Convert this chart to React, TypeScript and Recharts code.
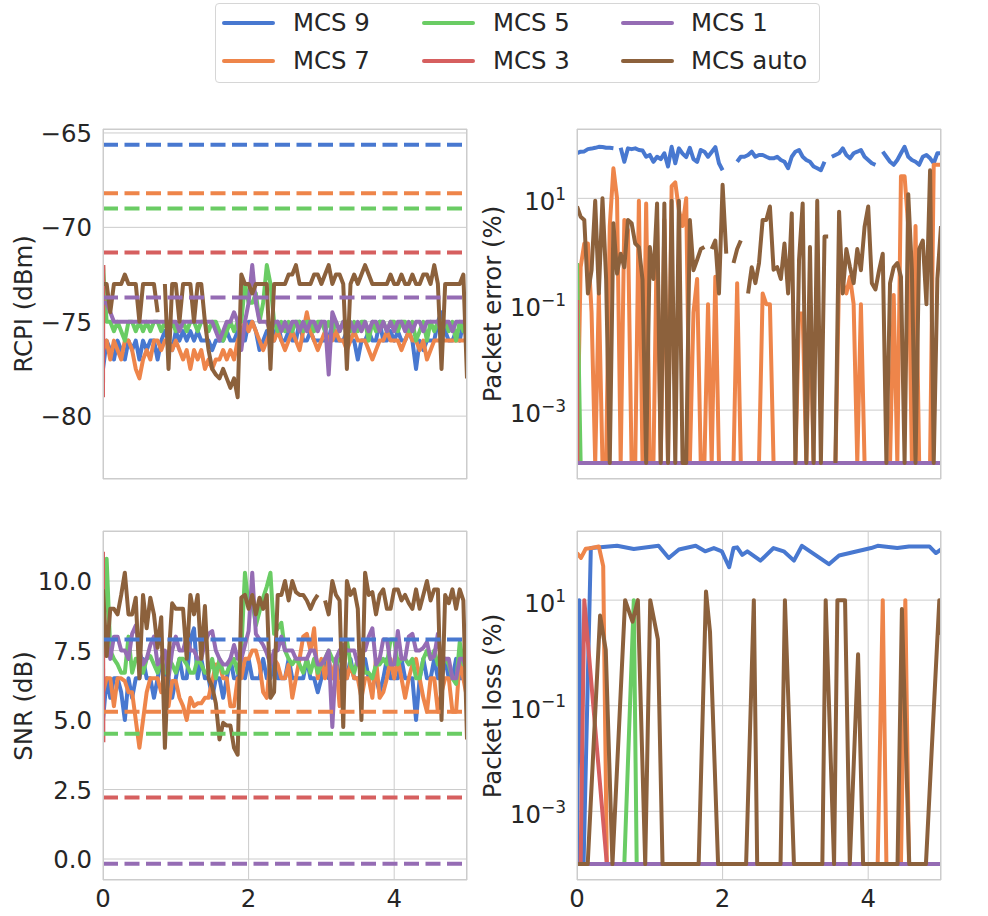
import React from "react";
import { LineChart, Line, XAxis, YAxis, CartesianGrid, ReferenceLine } from "recharts";

// seaborn "muted" palette, whitegrid style
const COLORS: Record<string, string> = {
  mcs9: "#4878d0", mcs7: "#ee854a", mcs5: "#6acc64",
  mcs3: "#d65f5f", mcs1: "#956cb4", auto: "#8c613c",
};
const TEXT = "#262626";
const GRID = "#cccccc";
const FONT = '"DejaVu Sans", sans-serif';
const FS = 24.4;

// ─── Data ──────────────────────────────────────────────────────────────────

const Z = 1e-4; // zero error / loss, drawn at the log floor

// sample times (s), 0.05 s apart
const T = Array.from({ length: 101 }, (_, i) => Math.round(i * 5) / 100);
const RED_X = [0, 0.005];

const LEGEND = [
  { key: "mcs9", label: "MCS 9" }, { key: "mcs7", label: "MCS 7" },
  { key: "mcs5", label: "MCS 5" }, { key: "mcs3", label: "MCS 3" },
  { key: "mcs1", label: "MCS 1" }, { key: "auto", label: "MCS auto" },
];

// thresholds (dashed) for MCS 9, 7, 5, 3, 1
const rcpiThresh = [-65.62, -68.19, -69.0, -71.33, -73.71];
const snrThresh = [7.9, 5.3, 4.51, 2.21, -0.17];
const THRESH_KEYS = ["mcs9", "mcs7", "mcs5", "mcs3", "mcs1"];

// RCPI (dBm)
const rcpiMcs9 = [
  -77.5, -76, -76.5, -77, -76, -76.5, -77, -76, -76.5, -76,
  -77, -76, -76.5, -76, -76, -77, -76, -75.5, -76, -76.5,
  -75.5, -76, -75.5, -76, -75.5, -76, -75.5, -76, -76, -76,
  -76.5, -76, -76, -76, -75.5, -76, -76, -75.5, -76, -76,
  -75, -75, -75.5, -76.5, -76, -75.5, -76, -76, -75, -76,
  -76, -75.5, -76, -76, -75, -76, -76, -75.5, -76, -76,
  -76, -76, -76, -75, -76, -76, -76, -75.5, -76, -76,
  -77, -76, -76, -75.5, -76, -76, -75, -76, -76, -75.5,
  -76, -75.5, -76, -76, -75.5, -76, -77.5, -76, -76.5, -76,
  -76, -76, -75, -74.5, -75.5, -76, -76, -75.5, -76, -75,
  -76,
];
const rcpiMcs7 = [
  -76.5, -76, -77, -76, -76.5, -77, -76, -76, -76.5, -77.5,
  -78, -77, -76.5, -77, -76, -76, -76.5, -76, -76, -76.5,
  -76, -76.5, -77, -76.5, -77.5, -76.5, -77, -76.5, -77.5, -77,
  -77.5, -77, -77, -76.5, -77, -76.5, -77, -76, -75.5, -75,
  -75.5, -75, -75.5, -76, -76.5, -76, -75.5, -76, -75.5, -76,
  -76.5, -76, -75.5, -76, -76.5, -75.5, -74.5, -75.5, -76, -76.5,
  -76, -75.5, -76, -76, -75.5, -76, -76, -76.5, -76, -75.5,
  -76, -76, -76, -76.5, -77, -76.5, -76, -76, -75.5, -76,
  -76, -76, -76.5, -76, -75.5, -76, -76, -76.5, -76, -77,
  -76.5, -76, -76, -76, -76, -76, -76, -76, -76, -76,
  -76,
];
const rcpiMcs5 = [
  -72, -75, -75, -75.5, -75, -75.5, -76, -75, -75, -75.5,
  -75, -75.5, -75, -75.5, -75, -75, -75.5, -75, -75.5, -75,
  -75.5, -75, -75, -75.5, -75, -75, -75.5, -75, -75, -75.5,
  -75, -75, -75.5, -76, -75.5, -75, -75.5, -75, -75, -73,
  -74, -74, -73.5, -75, -74, -72, -73, -75, -75.5, -75,
  -75.5, -75, -75.5, -75, -75, -75.5, -75, -75, -75.5, -75,
  -75, -75.5, -75, -75.5, -75, -75.5, -75, -75, -75.5, -75,
  -75.5, -75, -75, -76, -75, -75.5, -75, -75, -75.5, -75,
  -75, -75.5, -75, -75, -75.5, -75, -76, -75.5, -75, -76,
  -75, -75.5, -75, -75, -75, -75.5, -75, -76, -75, -75.5,
  -75,
];
const rcpiMcs3 = [-79, -72];
const rcpiMcs1 = [
  -74, -74, -74.5, -75, -75, -75, -75, -75, -75, -75,
  -75, -75, -75, -75, -75, -75, -75, -75, -75, -75,
  -75, -75.5, -75, -75, -75, -75, -75, -75, -75, -75,
  -75, -75.5, -76, -75.5, -75, -75, -74.5, -75, -76.5, -75,
  -74, -72, -74, -75, -75, -75, -75.5, -75, -75, -75.5,
  -75, -75.5, -75, -75, -75.5, -75, -75.5, -75, -75, -75.5,
  -75, -75, -77.8, -74.5, -75, -75.5, -75, -75.5, -75, -75.5,
  -75, -75.5, -75, -75.5, -75, -75, -75.5, -75, -75.5, -75,
  -75.5, -75, -75, -75.5, -75, -75.5, -75, -75, -75.5, -75,
  -75, -75, -75, -75.5, -75, -75, -75.5, -75, -75, -75,
  -75,
];
const rcpiAuto = [
  -73, -73, -74.5, -73, -73, -73, -72.5, -73, -73, -73,
  -75, -73, -73, -73, -73, -74.5, null, -73, -77.5, -73,
  -73, -75, -73, -73, -73, -75, -73, -73, -75, -76.5,
  -77.5, -77.8, -78, -77.5, -78, -78.5, -78, -79, -72.5, -73,
  -73, -73.5, -73, -73, -73, -73, -77.5, -73, -73, -73,
  -73, -72.5, -72.5, -72, -73, -73, -73, -73, -72.5, -72.5,
  -73, -72.5, -72, -73, -72.5, -72.5, -73, -77.5, -73, -72.5,
  -73, -72.5, -72, -72.5, -73, -73, -73, -73, -73, -72.5,
  -73, -73, -72.5, -73, -73, -72.5, -73, -73, -72.5, -72.5,
  -73, -72, -73, -77.5, -73, -73, -73, -73, -73, -72.5,
  -78,
];

// Packet error (%)
const perMcs9 = [
  71, 76, 77, 85, 87, 90, 94, 93, 90, 90,
  88, null, 90, 49, 88, 85, 88, 82, 80, 61,
  66, 49, 61, 55, 71, 40, 94, 46, 88, 70,
  60, 90, 55, 49, 82, 76, 61, 75, 93, 46,
  34, null, null, null, 49, 61, 61, 66, 76, 61,
  66, 66, 61, 57, 57, 61, 53, 49, 37, 61,
  76, 82, 61, 53, 49, 40, 37, 34, 49, null,
  61, 66, 71, 88, 66, 57, 71, 76, 82, 61,
  53, 46, 43, null, 76, 61, 49, 43, 53, 71,
  94, 61, 53, 49, 43, 61, 66, 57, 46, 71,
  71,
];
const perMcs7 = [
  Z, 0.5, 1.4, 1.4, 0.07, Z, 0.16, Z, Z, 3,
  37, 10, Z, 3.9, 2.5, Z, Z, 9, Z, 8,
  Z, Z, 4, Z, 4, Z, 17, 20, 6, 3,
  10, Z, 0.07, 0.3, Z, Z, 0.1, Z, 0.33, Z,
  Z, Z, Z, Z, 0.25, Z, Z, Z, Z, Z,
  Z, 0.16, 0.1, 0.1, Z, Z, Z, Z, Z, Z,
  Z, 0.067, 0.067, Z, 0.16, Z, Z, Z, Z, Z,
  Z, Z, 0.33, 0.25, 0.16, 0.33, 0.1, Z, 0.1, Z,
  Z, Z, Z, Z, Z, Z, Z, 0.15, Z, 26,
  26, 3, Z, 3, Z, Z, Z, Z, 43, 43,
  43,
];
const perMcs5 = [0.6, ...Array(100).fill(Z)];
const perMcs3 = [0.12, Z];
const perMcs1 = Array(101).fill(Z);
const perAuto = [
  7, 4.5, 3.9, 0.16, 0.44, 9, 0.16, 10, 0.3, Z,
  3.4, 0.38, 0.9, 0.5, 3.9, 3.4, 1.4, 1.2, 0.29, Z,
  1.2, 0.3, 8, Z, 8, Z, 9, Z, 9, Z,
  Z, 3.9, 0.44, 0.69, 1.1, 1.2, null, 1.1, 1.6, 0.16,
  18, 0.9, null, 0.6, 1.1, 1.6, null, 0.16, 0.5, 0.25,
  0.6, 3.9, 3.9, 7, 0.45, 0.5, 0.3, 1.4, 0.16, 5.2,
  Z, 0.69, 8, Z, 1.2, Z, 9, Z, 1.9, 1.9,
  null, Z, 5.6, 0.16, 1.1, 0.5, 0.25, 1.1, 0.44, 2.9,
  7, 0.25, 0.19, 0.44, 0.9, Z, 0.25, 0.5, 0.6, 0.33,
  Z, 12, 0.44, Z, 1.1, 1.6, 0.1, 34, Z, 0.3,
  3,
];

// SNR (dB)
const snrMcs9 = [
  5.0, 6.5, 5.8, 6.5, 6.5, 6.0, 5.0, 6.5, 5.8, 6.5,
  6.5, 7.2, 6.5, 6.5, 5.8, 6.5, 7.2, 6.5, 6.5, 5.8,
  6.5, 7.2, 6.5, 6.5, 7.9, 8.3, 6.5, 7.2, 6.5, 6.5,
  5.8, 6.5, 6.5, 5.8, 6.5, 7.2, 6.5, 6.5, 7.2, 6.5,
  7.2, 6.5, 6.5, 6.5, 7.2, 6.5, 6.5, 7.2, 6.5, 6.5,
  6.5, 7.2, 6.5, 6.5, 6.5, 6.5, 7.2, 6.5, 6.5, 6.0,
  6.5, 7.2, 6.5, 6.5, 7.2, 6.5, 6.5, 6.5, 7.2, 6.5,
  6.5, 6.5, 7.2, 6.5, 6.5, 6.5, 6.0, 6.5, 7.2, 6.5,
  6.5, 6.5, 7.2, 6.5, 6.5, 6.5, 5.0, 6.5, 7.2, 6.5,
  6.5, 7.2, 6.5, 6.5, 7.2, 6.5, 6.5, 7.2, 6.5, 6.5,
  6.5,
];
const snrMcs7 = [
  6.0, 6.5, 6.5, 5.5, 6.5, 6.5, 6.4, 6.0, 6.0, 5.0,
  4.0, 5.0, 6.0, 6.5, 6.5, 6.5, 6.0, 6.5, 5.5, 6.4,
  6.4, 5.8, 5.5, 5.0, 5.8, 5.5, 5.6, 5.6, 5.8, 5.8,
  6.4, 7.0, 7.0, 6.5, 6.5, 5.5, 5.5, 6.5, 6.5, 7.2,
  7.2, 7.5, 7.5, 7.0, 6.0, 5.8, 7.2, 7.2, 7.0, 6.5,
  6.5, 7.0, 5.8, 6.5, 7.2, 8.0, 8.1, 7.5, 8.3, 6.5,
  7.2, 6.5, 7.2, 6.5, 7.2, 5.5, 7.0, 6.5, 7.0, 6.5,
  6.5, 5.8, 6.5, 6.5, 5.8, 7.2, 5.8, 6.0, 6.5, 7.2,
  6.5, 7.2, 6.5, 5.8, 6.5, 7.0, 7.2, 6.5, 5.8, 5.3,
  6.5, 6.5, 5.3, 6.0, 6.5, 6.5, 5.3, 5.3, 7.2, 6.5,
  5.8,
];
const snrMcs5 = [
  7.2, 10.8, 7.5, 7.2, 7.0, 6.7, 6.7, 8.0, 6.7, 7.2,
  7.2, 6.7, 7.2, 7.3, 7.0, 6.7, 7.2, 6.7, 7.2, 7.0,
  6.7, 7.2, 7.2, 7.0, 6.7, 6.7, 7.2, 7.0, 6.7, 6.7,
  7.2, 6.5, 7.2, 6.7, 6.7, 7.0, 7.2, 6.7, 7.5, 10.3,
  9.1, 9.3, 8.4, 8.9, 9.4, 9.8, 10.3, 8.1, 8.3, 8.5,
  7.5, 7.2, 7.0, 7.2, 7.0, 6.7, 7.2, 6.7, 7.2, 6.7,
  7.0, 7.2, 7.5, 7.2, 7.0, 7.2, 7.2, 7.9, 7.0, 6.7,
  7.2, 7.2, 6.7, 6.7, 6.5, 7.0, 7.0, 7.2, 7.0, 7.9,
  7.9, 7.0, 7.2, 7.2, 7.0, 7.2, 6.5, 6.5, 7.2, 7.5,
  7.2, 7.5, 7.0, 7.2, 7.2, 7.0, 6.5, 6.3, 7.8, 7.0,
  7.0,
];
const snrMcs3 = [11.05, 4.2];
const snrMcs1 = [
  7.8, 7.8, 7.2, 8.0, 8.0, 7.5, 7.5, 7.2, 8.1, 8.4,
  7.5, 7.0, 7.2, 7.7, 8.0, 7.0, 7.2, 7.5, 6.5, 7.5,
  8.0, 7.5, 7.5, 8.0, 7.5, 7.5, 7.2, 7.2, 7.8, 8.1,
  8.2, 7.5, 7.2, 7.0, 7.0, 7.2, 7.7, 7.2, 7.2, 7.7,
  8.2, 10.3, 8.1, 7.9, 7.7, 7.4, 7.0, 7.5, 7.5, 8.0,
  7.5, 7.5, 7.5, 7.2, 7.2, 7.2, 7.2, 7.5, 7.5, 7.0,
  7.0, 7.2, 7.5, 4.75, 7.2, 7.5, 7.7, 7.5, 7.5, 7.5,
  7.0, 7.5, 7.5, 8.0, 8.3, 7.0, 7.2, 7.9, 7.9, 7.0,
  7.0, 8.2, 7.2, 7.2, 8.0, 8.1, 7.5, 7.5, 7.6, 7.8,
  7.2, 7.3, 8.1, 7.0, 7.2, 7.2, 6.5, 6.5, 7.2, 7.2,
  6.7,
];
const snrAuto = [
  9.7, 7.3, 9.0, 9.0, 8.8, 9.5, 10.3, 8.8, 8.8, 9.4,
  6.5, 9.5, 8.3, 9.4, 8.8, 7.6, 8.7, 4.0, 7.2, 9.2,
  9.0, 9.0, 9.0, 7.2, 9.5, 8.8, 9.5, 7.2, 9.1, 6.5,
  6.2, 5.6, 4.3, 4.9, 4.8, 4.8, 4.0, 3.75, 9.4, 9.5,
  9.0, 9.5, 8.8, 9.4, 9.0, 9.5, 5.8, 6.0, 9.5, 9.5,
  10.0, 9.3, 10.0, 9.6, 9.5, 9.5, 9.3, 9.0, 9.3, 9.5,
  null, 9.3, 8.8, 10.0, 9.5, 9.3, 4.75, 10.0, 9.5, 9.7,
  9.0, 5.0, 10.3, 9.5, 9.6, 8.8, 9.5, 9.7, 9.0, 9.0,
  9.7, 9.7, 9.3, 9.5, 9.2, 9.0, 9.7, 9.0, 9.5, 10.0,
  9.3, 9.7, 9.7, 5.0, 9.5, 9.2, 9.7, 9.0, 9.7, 9.3,
  4.3,
];

// Packet loss (%), own sample times per series
const plMcs9X = [0, 0.03, 0.09, 0.19, 0.32, 0.55, 0.78, 1.12, 1.26, 1.4, 1.63, 1.76, 1.88, 1.99, 2.09, 2.15, 2.2, 2.27, 2.34, 2.52, 2.7, 2.84, 2.98, 3.09, 3.46, 3.6, 4.04, 4.13, 4.4, 4.56, 4.84, 4.93, 5.0];
const plMcs9 = [Z, 10, Z, 97, 100, 107, 93, 107, 63, 91, 107, 84, 97, 84, 42, 97, 100, 72, 84, 56, 97, 84, 56, 107, 48, 70, 97, 107, 97, 104, 104, 78, 91];
const plMcs7X = [0, 0.055, 0.12, 0.2, 0.3, 0.36, 0.41, 4.13, 4.2, 4.25, 4.45, 4.51, 4.56, 5.0];
const plMcs7 = [78, 63, 94, 97, 104, 44, Z, Z, 10, Z, Z, 10, Z, Z];
const plMcs5X = [0, 0.65, 0.78, 0.82, 5.0];
const plMcs5 = [Z, Z, 10, Z, Z];
const plMcs3X = [0.05, 0.1, 0.41];
const plMcs3 = [Z, 10, Z];
const plMcs1X = [0, 5];
const plMcs1 = [Z, Z];
const plAutoX = [0.01, 0.147, 0.317, 0.395, 0.487, 0.661, 0.762, 0.836, 0.937, 1.006, 1.111, 1.175, 1.671, 1.772, 1.827, 1.938, 2.323, 2.429, 2.475, 2.796, 2.856, 2.98, 3.37, 3.416, 3.531, 3.577, 3.682, 3.747, 3.861, 3.93, 4.403, 4.463, 4.564, 4.793, 4.977, 5.0];
const plAuto = [Z, Z, 5.1, 1.14, Z, 10, 3.9, 10, Z, 10, 1.8, Z, Z, 14.6, 2.5, Z, Z, 10, Z, Z, 10, Z, Z, 10, Z, 10, 10, Z, 0.94, Z, Z, 6.8, Z, Z, 10, 2.2];

const X_TICKS = [0, 2, 4];
const RCPI_TICKS = [-80, -75, -70, -65];
const SNR_TICKS = [0, 2.5, 5, 7.5, 10];
const LOG_TICKS = [1e-3, 0.1, 10];

// ─── Helpers ───────────────────────────────────────────────────────────────

type Pt = { x: number; y: number | null };
const pts = (xs: number[], ys: (number | null)[]): Pt[] => xs.map((x, i) => ({ x, y: ys[i] }));

const minus = (v: number) => (v < 0 ? "\u2212" + Math.abs(v) : String(v));

function LinTick({ x, y, payload, fmt }: any) {
  return (
    <text x={x} y={y + 9} textAnchor="end" fontSize={FS} fontFamily={FONT} fill={TEXT}>
      {fmt(payload.value)}
    </text>
  );
}

function LogTick({ x, y, payload }: any) {
  const e = Math.round(Math.log10(payload.value));
  return (
    <text x={x} y={y + 12} textAnchor="end" fontSize={FS} fontFamily={FONT} fill={TEXT}>
      10<tspan dy={-10.5} fontSize={17}>{e < 0 ? "\u2212" + -e : String(e)}</tspan>
    </text>
  );
}

function XTick({ x, y, payload }: any) {
  return (
    <text x={x} y={y + 27} textAnchor="middle" fontSize={FS} fontFamily={FONT} fill={TEXT}>
      {payload.value}
    </text>
  );
}

// ─── Panel ─────────────────────────────────────────────────────────────────

type PanelProps = {
  left: number; top: number; w: number; h: number;
  yw: number; mt: number; mr: number; xh: number; showX: boolean;
  domain: [number, number]; ticks: number[]; log: boolean; fmt?: (v: number) => string;
  title: string; titleX: number;
  series: { key: string; data: Pt[] }[];
  thresholds?: number[];
};

function Panel(p: PanelProps) {
  const plotW = p.w - p.yw - p.mr;
  const plotH = p.h - p.mt - p.xh;
  return (
    <>
      <div style={{ position: "absolute", left: p.left, top: p.top }}>
        <LineChart width={p.w} height={p.h} margin={{ top: p.mt, right: p.mr, bottom: 0, left: 0 }}>
          <CartesianGrid stroke={GRID} strokeWidth={1} />
          <XAxis
            type="number" dataKey="x" domain={[0, 5]} ticks={X_TICKS} allowDataOverflow
            height={p.xh} axisLine={false} tickLine={false} tickSize={0} tickMargin={0}
            tick={p.showX ? (props: any) => <XTick {...props} /> : false}
          />
          <YAxis
            type="number" scale={p.log ? "log" : "linear"} domain={p.domain} ticks={p.ticks}
            allowDataOverflow width={p.yw} axisLine={false} tickLine={false} tickSize={0} tickMargin={11}
            tick={(props: any) => (p.log ? <LogTick {...props} /> : <LinTick {...props} fmt={p.fmt} />)}
          />
          {p.series.map((s) => (
            <Line
              key={s.key} data={s.data} dataKey="y" type="linear" stroke={COLORS[s.key]}
              strokeWidth={4} strokeLinejoin="round" dot={false} activeDot={false}
              connectNulls={false} isAnimationActive={false}
            />
          ))}
          {(p.thresholds ?? []).map((v, i) => (
            <ReferenceLine
              key={THRESH_KEYS[i]} y={v} stroke={COLORS[THRESH_KEYS[i]]}
              strokeWidth={4} strokeDasharray="15 6.5" ifOverflow="hidden"
            />
          ))}
        </LineChart>
      </div>
      <div
        style={{
          position: "absolute", left: p.left + p.yw, top: p.top + p.mt, width: plotW, height: plotH,
          border: `1px solid ${GRID}`, boxSizing: "border-box", pointerEvents: "none",
        }}
      />
      <div
        style={{
          position: "absolute", left: p.titleX, top: p.top + p.mt + plotH / 2,
          transform: "translate(-50%, -50%) rotate(-90deg)", whiteSpace: "nowrap",
          fontSize: FS, color: TEXT, fontFamily: FONT,
        }}
      >
        {p.title}
      </div>
    </>
  );
}

// ─── Legend ────────────────────────────────────────────────────────────────

const LEG_HANDLE_X = [221, 421, 620];
const LEG_TEXT_X = [292, 492, 690];
const LEG_ROW_Y = [22, 60];

function TopLegend() {
  return (
    <div
      style={{
        position: "absolute", left: 215, top: 3, width: 605, height: 80,
        border: "1px solid #d6d6d6", borderRadius: 4, boxSizing: "border-box", background: "#fff",
      }}
    >
      {LEGEND.map((item, i) => {
        const col = Math.floor(i / 2);
        const row = i % 2;
        return (
          <React.Fragment key={item.key}>
            <div
              style={{
                position: "absolute", left: LEG_HANDLE_X[col] - 215, top: LEG_ROW_Y[row] - 3 - 2,
                width: 53, height: 4, borderRadius: 2, background: COLORS[item.key],
              }}
            />
            <div
              style={{
                position: "absolute", left: LEG_TEXT_X[col] - 215, top: LEG_ROW_Y[row] - 3,
                transform: "translateY(-50%)", fontSize: FS, color: TEXT, fontFamily: FONT,
                whiteSpace: "nowrap", lineHeight: 1.2,
              }}
            >
              {item.label}
            </div>
          </React.Fragment>
        );
      })}
    </div>
  );
}

// ─── App ───────────────────────────────────────────────────────────────────

export default function App() {
  const rcpiSeries = [
    { key: "mcs9", data: pts(T, rcpiMcs9) },
    { key: "mcs7", data: pts(T, rcpiMcs7) },
    { key: "mcs5", data: pts(T, rcpiMcs5) },
    { key: "mcs3", data: pts(RED_X, rcpiMcs3) },
    { key: "mcs1", data: pts(T, rcpiMcs1) },
    { key: "auto", data: pts(T, rcpiAuto) },
  ];
  const perSeries = [
    { key: "mcs9", data: pts(T, perMcs9) },
    { key: "mcs7", data: pts(T, perMcs7) },
    { key: "mcs5", data: pts(T, perMcs5) },
    { key: "mcs3", data: pts(RED_X, perMcs3) },
    { key: "mcs1", data: pts(T, perMcs1) },
    { key: "auto", data: pts(T, perAuto) },
  ];
  const snrSeries = [
    { key: "mcs9", data: pts(T, snrMcs9) },
    { key: "mcs7", data: pts(T, snrMcs7) },
    { key: "mcs5", data: pts(T, snrMcs5) },
    { key: "mcs3", data: pts(RED_X, snrMcs3) },
    { key: "mcs1", data: pts(T, snrMcs1) },
    { key: "auto", data: pts(T, snrAuto) },
  ];
  const plSeries = [
    { key: "mcs9", data: pts(plMcs9X, plMcs9) },
    { key: "mcs7", data: pts(plMcs7X, plMcs7) },
    { key: "mcs5", data: pts(plMcs5X, plMcs5) },
    { key: "mcs3", data: pts(plMcs3X, plMcs3) },
    { key: "mcs1", data: pts(plMcs1X, plMcs1) },
    { key: "auto", data: pts(plAutoX, plAuto) },
  ];

  return (
    <div style={{ position: "absolute", left: 0, top: 0, width: 988, height: 916, background: "#fff", fontFamily: FONT }}>
      <TopLegend />
      <Panel
        left={0} top={100} w={480} h={400} yw={103} mt={29} mr={13} xh={21} showX={false}
        domain={[-83.33, -64.79]} ticks={RCPI_TICKS} log={false} fmt={minus}
        title="RCPI (dBm)" titleX={23} series={rcpiSeries} thresholds={rcpiThresh}
      />
      <Panel
        left={480} top={100} w={508} h={400} yw={97} mt={29} mr={47} xh={21} showX={false}
        domain={[5e-5, 204]} ticks={LOG_TICKS} log
        title="Packet error (%)" titleX={492} series={perSeries}
      />
      <Panel
        left={0} top={500} w={480} h={416} yw={103} mt={31} mr={13} xh={36} showX
        domain={[-0.755, 11.8]} ticks={SNR_TICKS} log={false} fmt={(v) => v.toFixed(1)}
        title="SNR (dB)" titleX={23} series={snrSeries} thresholds={snrThresh}
      />
      <Panel
        left={480} top={500} w={508} h={416} yw={97} mt={31} mr={47} xh={36} showX
        domain={[5e-5, 204]} ticks={LOG_TICKS} log
        title="Packet loss (%)" titleX={492} series={plSeries}
      />
    </div>
  );
}
